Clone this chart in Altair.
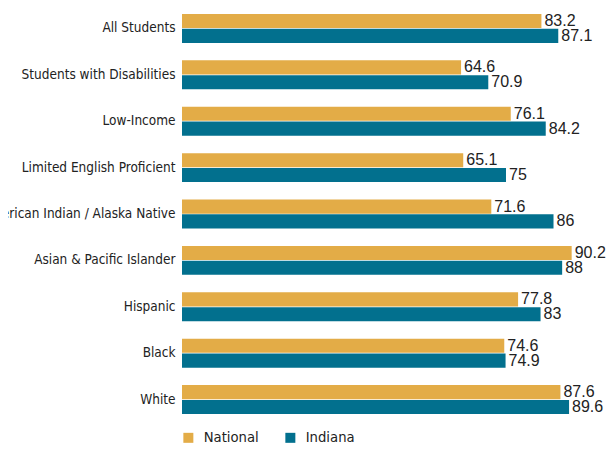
import altair as alt
import pandas as pd

categories = [
    "All Students",
    "Students with Disabilities",
    "Low-Income",
    "Limited English Proficient",
    "American Indian / Alaska Native",
    "Asian & Pacific Islander",
    "Hispanic",
    "Black",
    "White",
]
national = [83.2, 64.6, 76.1, 65.1, 71.6, 90.2, 77.8, 74.6, 87.6]
indiana = [87.1, 70.9, 84.2, 75, 86, 88, 83, 74.9, 89.6]
series = ["National", "Indiana"]
colors = ["#E3AC47", "#02708E"]

rows = []
for c, n, i in zip(categories, national, indiana):
    rows.append({"group": c, "series": "National", "value": n, "label": f"{n:g}"})
    rows.append({"group": c, "series": "Indiana", "value": i, "label": f"{i:g}"})
df = pd.DataFrame(rows)

NARROW = "DejaVu Sans Condensed, Liberation Sans Narrow, sans-serif"
REG = "Liberation Sans, Arial, Helvetica, sans-serif"

y_enc = alt.Y(
    "group:N",
    sort=categories,
    scale=alt.Scale(paddingInner=0.375, paddingOuter=0.129),
    axis=alt.Axis(
        title=None, domain=False, ticks=False, labelPadding=7, labelLimit=0,
        labelFont=NARROW, labelFontSize=13.5, labelColor="#222222",
    ),
)
yoff = alt.YOffset("series:N", sort=series, scale=alt.Scale(paddingInner=0.05))
x_enc = alt.X("value:Q", scale=alt.Scale(domain=[0, 98.15], nice=False, zero=True), axis=None)

bars = alt.Chart(df).mark_bar().encode(
    y=y_enc,
    yOffset=yoff,
    x=x_enc,
    color=alt.Color(
        "series:N",
        sort=series,
        scale=alt.Scale(domain=series, range=colors),
        legend=alt.Legend(
            title=None, orient="none", legendX=-1, legendY=422, direction="horizontal",
            symbolType="square", symbolSize=100, symbolStrokeWidth=0,
            labelFont=NARROW, labelFontSize=14.7, labelColor="#222222",
            labelOffset=8, columnPadding=24,
        ),
    ),
)

labels = alt.Chart(df).mark_text(
    align="left", baseline="middle", dx=3, font=REG, fontSize=16, color="#222222"
).encode(
    y=y_enc,
    yOffset=yoff,
    x=x_enc,
    text="label:N",
)

chart = (
    alt.layer(bars, labels)
    .properties(
        width=424,
        height=412,
        padding={"left": 174, "top": 0, "right": 0, "bottom": 24},
        autosize=alt.AutoSizeParams(type="none"),
    )
    .configure_view(stroke=None)
)

chart.save("out.html", embed_options={"renderer": "svg", "actions": False})
